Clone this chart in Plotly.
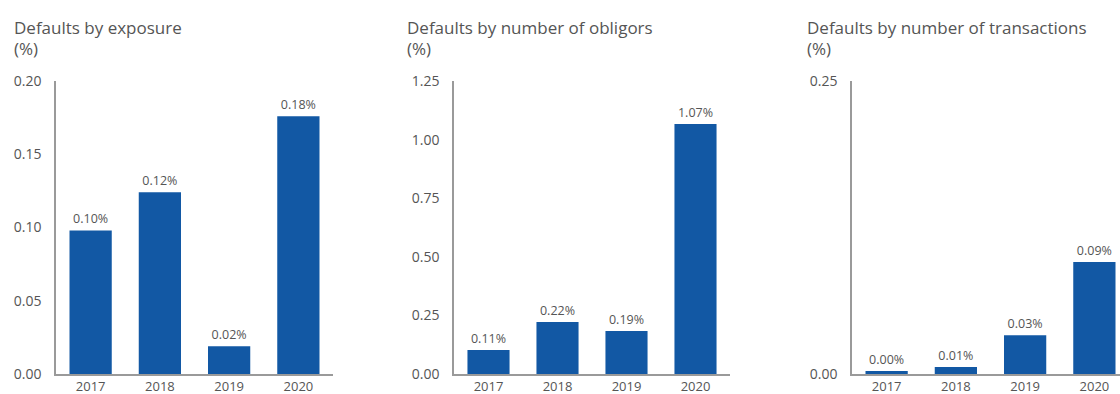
import plotly.graph_objects as go

years = ["2017", "2018", "2019", "2020"]
exposure = [0.098, 0.124, 0.019, 0.176]
exposure_labels = ["0.10%", "0.12%", "0.02%", "0.18%"]
obligors = [0.102, 0.222, 0.183, 1.067]
obligors_labels = ["0.11%", "0.22%", "0.19%", "1.07%"]
transactions = [0.0026, 0.006, 0.033, 0.0955]
transactions_labels = ["0.00%", "0.01%", "0.03%", "0.09%"]

titles = ["Defaults by exposure", "Defaults by number of obligors", "Defaults by number of transactions"]
y_ticks = [[0, 0.05, 0.10, 0.15, 0.20], [0, 0.25, 0.50, 0.75, 1.00, 1.25], [0, 0.25]]
y_ranges = [[0, 0.20], [0, 1.25], [0, 0.25]]

W, H = 1120, 394
BAR = "#1258a4"
TXT = "#555555"
AX = "#9a9a9a"
FONT = "Open Sans"

fig = go.Figure()
series = [(exposure, exposure_labels), (obligors, obligors_labels), (transactions, transactions_labels)]
x_domains = [[56 / W, 333 / W], [454 / W, 730 / W], [852 / W, 1.0]]
x_ranges = [[-0.5, 3.5], [-0.5, 3.5], [-0.5, -0.5 + 268 / 69.25]]
title_x = [12, 405, 805]
y_dom = [20 / H, 1 - 81 / H]

for i, (vals, labs) in enumerate(series):
    n = "" if i == 0 else str(i + 1)
    fig.add_trace(go.Bar(
        x=years, y=vals, text=labs, textposition="outside",
        textfont=dict(size=12.5, color=TXT, family=FONT),
        marker=dict(color=BAR, line=dict(width=0)),
        cliponaxis=False, width=0.61,
        xaxis="x" + n, yaxis="y" + n, showlegend=False, hoverinfo="skip",
    ))
    fig.layout["xaxis" + n] = dict(
        domain=x_domains[i], range=x_ranges[i], type="category",
        showline=True, linecolor=AX, linewidth=1.5, ticks="", showgrid=False,
        tickfont=dict(size=13, color=TXT, family=FONT), anchor="y" + n,
        automargin=False,
    )
    fig.layout["yaxis" + n] = dict(
        domain=y_dom, range=y_ranges[i], tickvals=y_ticks[i],
        ticktext=[f"{v:.2f}" for v in y_ticks[i]],
        showline=True, linecolor=AX, linewidth=1.5, ticks="", showgrid=False,
        zeroline=False, tickfont=dict(size=14, color=TXT, family=FONT),
        anchor="x" + n, ticklabelstandoff=10, automargin=False,
    )
    fig.add_annotation(text=titles[i], xref="paper", yref="paper",
                       x=title_x[i] / W, y=1 - 27 / H, xanchor="left", yanchor="middle",
                       showarrow=False, font=dict(size=17, color=TXT, family=FONT))
    fig.add_annotation(text="(%)", xref="paper", yref="paper",
                       x=title_x[i] / W, y=1 - 49 / H, xanchor="left", yanchor="middle",
                       showarrow=False, font=dict(size=17, color=TXT, family=FONT))

fig.update_layout(
    width=W, height=H, margin=dict(l=0, r=0, t=0, b=0),
    paper_bgcolor="white", plot_bgcolor="white", bargap=0.39,
)
fig.write_html("out.html")
